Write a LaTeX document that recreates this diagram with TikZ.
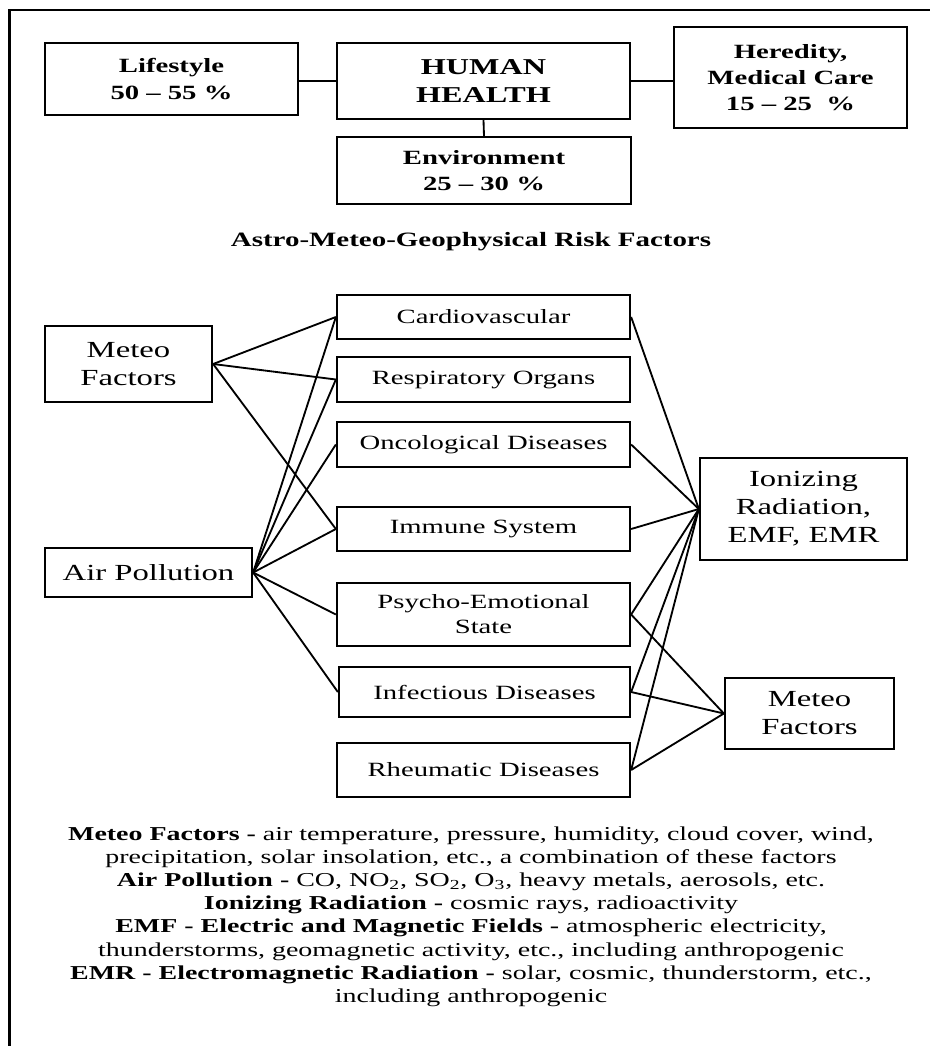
\documentclass[tikz,border=0pt]{standalone}
\usepackage{fontspec}
\setmainfont[FakeStretch=1.42]{Liberation Serif}
\usepackage{tikz}
\usetikzlibrary{calc, positioning}

\begin{document}
\begin{tikzpicture}
    \tikzstyle{share} = [rectangle, draw, line width=1.3pt, inner sep=0pt, align=center,
        font=\bfseries\fontsize{11.5}{15}\selectfont]
    \tikzstyle{organ} = [rectangle, draw, line width=1.3pt, inner sep=0pt, align=center,
        minimum width=5.86cm, font=\fontsize{11.5}{14.2}\selectfont]
    \tikzstyle{factor} = [rectangle, draw, line width=1.3pt, inner sep=0pt, align=center,
        font=\fontsize{13.1}{15.9}\selectfont]
    \tikzstyle{link} = [line width=1.05pt]

    \useasboundingbox (0, 0) rectangle (18.6, -20.92);
    \draw[line width=1.3pt] (0.19, -21.5) -- (0.19, -0.2) -- (19, -0.2);

    % Health shares ---------------------------------------
    \node (hh) at (9.67, -1.62) [share, minimum width=5.86cm, minimum height=1.52cm,
        font=\bfseries\fontsize{12.9}{16.4}\selectfont] {HUMAN\\HEALTH};
    \node (life) at (3.43, -1.58) [share, minimum width=5.06cm, minimum height=1.44cm]
        {Lifestyle\\50 -- 55 \%};
    \node (hered) at (15.81, -1.55) [share, minimum width=4.66cm, minimum height=2.02cm]
        {Heredity,\\Medical Care\\15 -- 25 \ \%};
    \node (env) at ($(hh) + (0.01, -1.79)$) [share, minimum width=5.88cm, minimum height=1.34cm]
        {Environment\\25 -- 30 \%};

    \draw[link] (hh.west) -- (hh.west -| life.east);
    \draw[link] (hh.east) -- (hh.east -| hered.west);
    \draw[link] (hh.south) -- (env.north);

    \node (title) at (9.42, -4.84) [font=\bfseries\fontsize{11.6}{14}\selectfont]
        {Astro-Meteo-Geophysical Risk Factors};
    % ---------------------------------------------------

    % Organs and systems
    \node (cardio) at (9.67, -6.34) [organ, minimum height=0.88cm] {Cardiovascular};
    \node (resp) at ($(cardio) + (0, -1.25)$) [organ, minimum height=0.9cm] {Respiratory Organs};
    \node (onco) at ($(resp) + (0, -1.30)$) [organ, minimum height=0.9cm] {Oncological Diseases};
    \node (immune) at ($(onco) + (0, -1.69)$) [organ, minimum height=0.88cm] {Immune System};
    \node (psycho) at ($(immune) + (0, -1.71)$) [organ, minimum height=1.26cm] {Psycho-Emotional\\State};
    \node (infect) at ($(psycho) + (0.02, -1.55)$) [organ, minimum width=5.82cm, minimum height=1.0cm]
        {Infectious Diseases};
    \node (rheum) at ($(infect) + (-0.02, -1.56)$) [organ, minimum height=1.08cm] {Rheumatic Diseases};

    % Risk factors
    \node (meteoL) at (2.57, -7.28) [factor, minimum width=3.34cm, minimum height=1.52cm] {Meteo\\Factors};
    \node (air) at (2.97, -11.45) [factor, minimum width=4.14cm, minimum height=0.98cm] {Air Pollution};
    \node (ion) at (16.07, -10.18) [factor, minimum width=4.14cm, minimum height=2.04cm]
        {Ionizing\\Radiation,\\EMF, EMR};
    \node (meteoR) at (16.19, -14.27) [factor, minimum width=3.38cm, minimum height=1.42cm] {Meteo\\Factors};

    % Links ---------------------------------------------
    \draw[link] (meteoL.east) -- (cardio.west);
    \draw[link] (meteoL.east) -- (resp.west);
    \draw[link] (meteoL.east) -- (immune.west);

    \draw[link] (air.east) -- (cardio.west);
    \draw[link] (air.east) -- (resp.west);
    \draw[link] (air.east) -- (onco.west);
    \draw[link] (air.east) -- (immune.west);
    \draw[link] (air.east) -- (psycho.west);
    \draw[link] (air.east) -- (infect.west);

    \draw[link] (cardio.east) -- (ion.west);
    \draw[link] (onco.east) -- (ion.west);
    \draw[link] (immune.east) -- (ion.west);
    \draw[link] (psycho.east) -- (ion.west);
    \draw[link] (infect.east) -- (ion.west);
    \draw[link] (rheum.east) -- (ion.west);

    \draw[link] (psycho.east) -- (meteoR.west);
    \draw[link] (infect.east) -- (meteoR.west);
    \draw[link] (rheum.east) -- (meteoR.west);
    % ---------------------------------------------------

    % Legend
    \node (notes) at (9.42, -18.33) [align=center, font=\fontsize{11.2}{13.2}\selectfont]
        {\textbf{Meteo Factors -} air temperature, pressure, humidity, cloud cover, wind,\\
         precipitation, solar insolation, etc., a combination of these factors\\
         \textbf{Air Pollution -} CO, NO\textsubscript{2}, SO\textsubscript{2}, O\textsubscript{3}, heavy metals, aerosols, etc.\\
         \textbf{Ionizing Radiation -} cosmic rays, radioactivity\\
         \textbf{EMF - Electric and Magnetic Fields -} atmospheric electricity,\\
         thunderstorms, geomagnetic activity, etc., including anthropogenic\\
         \textbf{EMR - Electromagnetic Radiation -} solar, cosmic, thunderstorm, etc.,\\
         including anthropogenic};
\end{tikzpicture}
\end{document}
